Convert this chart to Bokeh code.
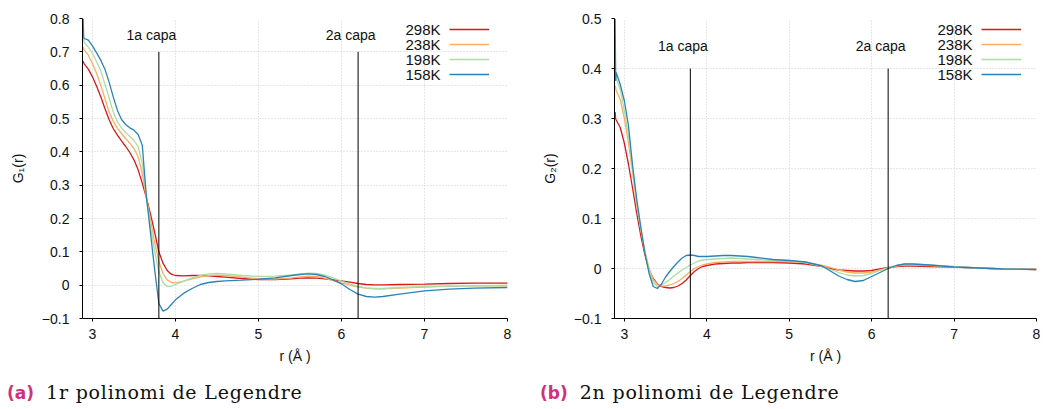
from bokeh.plotting import figure
from bokeh.models import (FixedTicker, Legend, LegendItem, Label, Div, Range1d)
from bokeh.layouts import row, column
from bokeh.core.properties import value
from bokeh.embed import file_html
from bokeh.resources import INLINE

# ---------------- data ----------------
TEMPS = ["298K", "238K", "198K", "158K"]
COLORS = ["#d7191c", "#fdae61", "#abdda4", "#2b83ba"]

R = [2.888, 2.894, 2.9, 2.95, 3.0, 3.05, 3.1, 3.15, 3.2, 3.25, 3.3, 3.35, 3.4, 3.45,
     3.5, 3.55, 3.6, 3.65, 3.7, 3.75, 3.8, 3.85, 3.9, 3.95, 4.0, 4.1, 4.2, 4.3, 4.4,
     4.5, 4.6, 4.8, 5.0, 5.2, 5.4, 5.5, 5.6, 5.7, 5.8, 5.9, 6.0, 6.1, 6.2, 6.3, 6.4,
     6.5, 6.7, 7.0, 7.3, 7.6, 8.0]

G1_298 = [0.672, 0.668, 0.664, 0.648, 0.625, 0.597, 0.565, 0.530, 0.497, 0.470, 0.450,
          0.433, 0.416, 0.398, 0.376, 0.346, 0.306, 0.262, 0.212, 0.158, 0.100, 0.066,
          0.044, 0.033, 0.029, 0.028, 0.029, 0.029, 0.028, 0.026, 0.024, 0.020, 0.017,
          0.017, 0.019, 0.021, 0.022, 0.021, 0.019, 0.016, 0.013, 0.009, 0.005, 0.002,
          0.001, 0.001, 0.002, 0.003, 0.005, 0.006, 0.006]
G1_238 = [0.715, 0.710, 0.705, 0.690, 0.665, 0.635, 0.600, 0.560, 0.520, 0.492, 0.471,
          0.455, 0.440, 0.426, 0.410, 0.385, 0.335, 0.262, 0.195, 0.128, 0.070, 0.035,
          0.016, 0.008, 0.007, 0.012, 0.019, 0.025, 0.029, 0.030, 0.029, 0.024, 0.019,
          0.018, 0.022, 0.025, 0.027, 0.026, 0.021, 0.014, 0.007, 0.000, -0.006, -0.009,
          -0.011, -0.011, -0.009, -0.006, -0.003, -0.002, -0.001]
G1_198 = [0.760, 0.735, 0.728, 0.714, 0.695, 0.670, 0.643, 0.603, 0.562, 0.520, 0.490,
          0.472, 0.458, 0.446, 0.434, 0.416, 0.365, 0.262, 0.175, 0.100, 0.040, 0.007,
          -0.004, -0.003, 0.002, 0.012, 0.022, 0.029, 0.034, 0.035, 0.034, 0.029, 0.026,
          0.027, 0.031, 0.034, 0.036, 0.035, 0.030, 0.022, 0.012, 0.003, -0.004, -0.008,
          -0.010, -0.010, -0.007, -0.004, -0.003, -0.002, -0.002]
G1_158 = [0.800, 0.745, 0.740, 0.735, 0.718, 0.697, 0.675, 0.648, 0.610, 0.565, 0.525,
          0.497, 0.482, 0.472, 0.465, 0.452, 0.420, 0.265, 0.155, 0.045, -0.055, -0.078,
          -0.072, -0.058, -0.044, -0.024, -0.010, 0.002, 0.008, 0.011, 0.013, 0.015, 0.018,
          0.022, 0.029, 0.032, 0.034, 0.032, 0.026, 0.016, 0.004, -0.013, -0.027, -0.034,
          -0.036, -0.034, -0.027, -0.017, -0.012, -0.009, -0.007]

G2_298 = [0.313, 0.300, 0.297, 0.282, 0.250, 0.208, 0.160, 0.110, 0.065, 0.027, -0.003,
          -0.020, -0.031, -0.036, -0.038, -0.039, -0.038, -0.035, -0.030, -0.023, -0.014,
          -0.006, 0.000, 0.004, 0.006, 0.009, 0.010, 0.011, 0.011, 0.012, 0.012, 0.012,
          0.011, 0.009, 0.004, 0.000, -0.003, -0.004, -0.005, -0.005, -0.004, -0.001,
          0.002, 0.004, 0.005, 0.005, 0.004, 0.003, 0.001, -0.001, -0.002]
G2_238 = [0.366, 0.360, 0.356, 0.338, 0.300, 0.250, 0.192, 0.128, 0.076, 0.032, 0.000,
          -0.022, -0.032, -0.035, -0.035, -0.033, -0.030, -0.026, -0.020, -0.013, -0.006,
          0.000, 0.004, 0.007, 0.009, 0.012, 0.013, 0.014, 0.014, 0.014, 0.014, 0.014,
          0.014, 0.012, 0.006, 0.002, -0.003, -0.007, -0.009, -0.009, -0.007, -0.003,
          0.001, 0.005, 0.007, 0.007, 0.006, 0.003, 0.001, -0.001, -0.002]
G2_198 = [0.440, 0.390, 0.382, 0.358, 0.315, 0.265, 0.200, 0.135, 0.080, 0.034, -0.004,
          -0.028, -0.036, -0.033, -0.028, -0.022, -0.015, -0.009, -0.003, 0.002, 0.007,
          0.011, 0.015, 0.017, 0.018, 0.019, 0.020, 0.021, 0.020, 0.019, 0.018, 0.016,
          0.016, 0.012, 0.004, -0.002, -0.008, -0.013, -0.015, -0.014, -0.010, -0.004,
          0.002, 0.006, 0.009, 0.009, 0.007, 0.004, 0.001, -0.001, -0.002]
G2_158 = [0.500, 0.375, 0.392, 0.368, 0.335, 0.285, 0.205, 0.138, 0.082, 0.030, -0.010,
          -0.036, -0.040, -0.031, -0.017, -0.006, 0.004, 0.013, 0.021, 0.026, 0.027,
          0.026, 0.024, 0.024, 0.024, 0.025, 0.026, 0.026, 0.025, 0.024, 0.022, 0.018,
          0.016, 0.013, 0.005, -0.005, -0.015, -0.022, -0.026, -0.024, -0.016, -0.008,
          0.000, 0.006, 0.009, 0.009, 0.007, 0.003, 0.001, -0.001, -0.002]

SHELL_R = [3.8, 6.2]
SHELL_LABELS = ["1a capa", "2a capa"]

X_TICKS = [3, 4, 5, 6, 7, 8]
Y1_TICKS = [0.8, 0.7, 0.6, 0.5, 0.4, 0.3, 0.2, 0.1, 0, -0.1]
Y2_TICKS = [0.5, 0.4, 0.3, 0.2, 0.1, 0, -0.1]

FONT = "Liberation Sans"


def fmt(t):
    if t == 0:
        return "0"
    s = ("%g" % t)
    return s.replace("-", "\u2212")


def make_panel(series, yticks, ylabel, shell_top, shell_text_y, width, left, right):
    ymax = yticks[0]
    p = figure(width=width, height=370, output_backend="svg", toolbar_location=None,
               x_range=Range1d(2.88, 8.0), y_range=Range1d(-0.1, ymax),
               min_border_left=left, min_border_right=right,
               min_border_top=18, min_border_bottom=52)
    p.outline_line_color = None
    p.background_fill_color = "white"
    p.border_fill_color = "white"

    for ax in (p.xaxis[0], p.yaxis[0]):
        ax.axis_line_color = "#000000"
        ax.major_tick_line_color = "#000000"
        ax.minor_tick_line_color = None
        ax.major_tick_out = 3
        ax.major_tick_in = 0
        ax.major_label_text_font = FONT
        ax.major_label_text_font_size = "14px"
        ax.major_label_text_color = "#111111"
        ax.axis_label_text_font = FONT
        ax.axis_label_text_font_size = "14px"
        ax.axis_label_text_font_style = "normal"
        ax.axis_label_text_color = "#111111"

    p.xaxis.ticker = FixedTicker(ticks=X_TICKS)
    p.xaxis.major_label_overrides = {t: fmt(t) for t in X_TICKS}
    p.xaxis.major_label_standoff = 7
    p.xaxis.axis_label = "r (\u00c5 )"
    p.xaxis.axis_label_standoff = 6

    p.yaxis.ticker = FixedTicker(ticks=yticks)
    p.yaxis.major_label_overrides = {t: fmt(t) for t in yticks}
    p.yaxis.major_label_standoff = 10
    p.yaxis.axis_label = ylabel
    p.yaxis.axis_label_standoff = 13

    for g in (p.xgrid[0], p.ygrid[0]):
        g.grid_line_color = "#cfcfcf"
        g.grid_line_dash = "1 2"
        g.grid_line_width = 1
    p.ygrid.ticker = FixedTicker(ticks=yticks)
    p.xgrid.ticker = FixedTicker(ticks=X_TICKS)

    renderers = []
    for ys, c in zip(series, COLORS):
        r = p.line(R, ys, line_color=c, line_width=1.3)
        renderers.append(r)

    # shell markers
    p.segment(x0=SHELL_R, y0=[-0.1] * len(SHELL_R), x1=SHELL_R,
              y1=[shell_top] * len(SHELL_R), line_color="#000000", line_width=1)
    p.text(x=[s - 0.09 for s in SHELL_R], y=[shell_text_y] * len(SHELL_R),
           text=SHELL_LABELS, text_font=value(FONT), text_font_size="14px",
           text_align="center", text_baseline="middle", text_color="#111111")

    # legend: swatches via Legend, texts via Labels to the left
    items = [LegendItem(label=" ", renderers=[r]) for r in renderers]
    leg = Legend(items=items, location=(367, 237), orientation="vertical",
                 glyph_width=40, glyph_height=14, label_height=14, spacing=1,
                 padding=0, margin=0, label_text_font_size="1px", label_width=0,
                 label_standoff=0, border_line_color=None, background_fill_alpha=0)
    p.add_layout(leg, "center")
    for i, t in enumerate(TEMPS):
        lab = Label(x=358, y=289 - 15 * i, x_units="screen", y_units="screen",
                    text=t, text_align="right", text_baseline="middle",
                    text_font=FONT, text_font_size="15px", text_color="#111111")
        p.add_layout(lab)
    return p


p1 = make_panel([G1_298, G1_238, G1_198, G1_158], Y1_TICKS, "G\u2081(r)", 0.7, 0.75,
                522, 82, 15)
p2 = make_panel([G2_298, G2_238, G2_198, G2_158], Y2_TICKS, "G\u2082(r)", 0.4, 0.445,
                523, 92, 9)


def caption(letter, text, pad_left, width):
    html = ('<div style="padding:13px 0 0 %dpx; white-space:nowrap; '
            'font-family:\'DejaVu Serif\'; font-size:19px; line-height:19px; '
            'letter-spacing:0.8px; color:#111;">'
            '<span style="font-family:\'DejaVu Sans\'; font-weight:bold; color:#d1307e; '
            'font-size:17px; letter-spacing:0;">(%s)</span>'
            '<span style="margin-left:12px;">%s</span></div>') % (pad_left, letter, text)
    return Div(text=html, width=width, height=39, margin=0)


d1 = caption("a", "1r polinomi de Legendre", 7, 522)
d2 = caption("b", "2n polinomi de Legendre", 18, 523)

layout = row(column(p1, d1, spacing=0, margin=0), column(p2, d2, spacing=0, margin=0),
             spacing=0, margin=0)

open("out.html", "w").write(file_html(layout, INLINE))
